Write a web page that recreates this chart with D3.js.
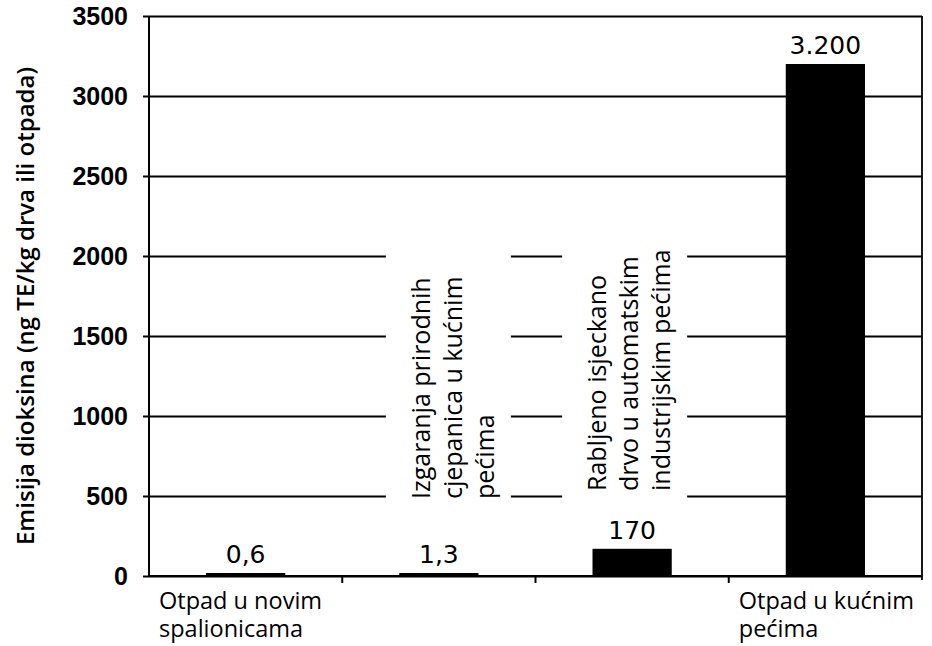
<!DOCTYPE html>
<html lang="hr">
	<head>
		<meta charset="utf-8">
		<title>Emisija dioksina</title>
		<script type="text/javascript" src="https://cdn.jsdelivr.net/npm/d3@7/dist/d3.min.js"></script>
		<style type="text/css">
			body { margin: 0; background: white; }
			.tick text { font-family: "Liberation Sans", Arial, sans-serif; font-weight: bold; font-size: 25px; fill: #000; }
			.val { font-family: "DejaVu Sans", sans-serif; font-size: 25px; }
			.cat { font-family: "Open Sans", sans-serif; font-size: 25px; }
			.catb { font-family: "Open Sans", sans-serif; font-size: 23.5px; }
			.ytitle { font-family: "Open Sans", sans-serif; font-size: 24px; font-weight: 600; }
		</style>
	</head>
	<body>
		<script type="text/javascript">
			//Data
			var categories = ["novim", "cjepanice", "rabljeno", "kucnim"];
			var values = [0.6, 1.3, 170, 3200];
			var valueLabels = ["0,6", "1,3", "170", "3.200"];
			//labels under the axis (horizontal) or inside the plot (rotated)
			var catLines = [
				["Otpad u novim", "spalionicama"],
				["Izgaranja prirodnih", "cjepanica u kućnim", "pećima"],
				["Rabljeno isjeckano", "drvo u automatskim", "industrijskim pećima"],
				["Otpad u kućnim", "pećima"]
			];
			var rotated = [false, true, true, false];
			var yTicks = [0, 500, 1000, 1500, 2000, 2500, 3000, 3500];

			var w = 932, h = 646;
			var margin = {top: 16, right: 10, bottom: 70, left: 149};

			var svg = d3.select("body").append("svg")
				.attr("width", w)
				.attr("height", h);

			var x = d3.scaleBand()
				.domain(categories)
				.range([margin.left, w - margin.right])
				.paddingInner(0.59)
				.paddingOuter(0.295);

			var y = d3.scaleLinear()
				.domain([0, 3500])
				.range([h - margin.bottom, margin.top]);

			//grid + y axis
			var yAxis = svg.append("g")
				.attr("transform", "translate(" + margin.left + ",0)")
				.call(d3.axisLeft(y).tickValues(yTicks).tickSize(6).tickPadding(15).tickFormat(d3.format("d")));
			yAxis.select(".domain").remove();
			yAxis.selectAll(".tick line")
				.attr("x1", -6)
				.attr("x2", w - margin.right - margin.left)
				.attr("stroke", "#000")
				.attr("stroke-width", 1.8);

			//left axis + right border
			svg.append("line")
				.attr("x1", margin.left).attr("x2", margin.left)
				.attr("y1", y(3500)).attr("y2", y(0))
				.attr("stroke", "#000").attr("stroke-width", 2);
			svg.append("line")
				.attr("x1", w - margin.right).attr("x2", w - margin.right)
				.attr("y1", y(3500)).attr("y2", y(0) + 4)
				.attr("stroke", "#000").attr("stroke-width", 1.8);

			//category tick marks between bands
			d3.range(1, categories.length).forEach(function(i) {
				var tx = x.range()[0] + i * x.step();
				svg.append("line")
					.attr("x1", tx).attr("x2", tx)
					.attr("y1", y(0)).attr("y2", y(0) + 7)
					.attr("stroke", "#000").attr("stroke-width", 2);
			});

			//rotated labels with white background (covers the grid)
			var lh = 32;
			categories.forEach(function(c, i) {
				if (!rotated[i]) return;
				var cx = x(c) + x.bandwidth() / 2;
				var shift = i == 1 ? 14 : -3;
				var first = cx + shift - lh * (catLines[i].length - 1) / 2;
				var last = first + lh * (catLines[i].length - 1);
				var startY = i == 1 ? 499 : 491;
				var g = svg.append("g");
				var bg = g.append("rect").attr("fill", "white");
				var t = g.append("text")
					.attr("class", "cat")
					.attr("transform", "translate(" + first + "," + startY + ") rotate(-90)");
				catLines[i].forEach(function(line, k) {
					t.append("tspan")
						.attr("x", 0)
						.attr("y", k * lh)
						.attr("dy", "0.35em")
						.text(line);
				});
				var len = d3.max(t.selectAll("tspan").nodes(), function(n) { return n.getComputedTextLength(); });
				bg.attr("x", first - 35)
					.attr("width", last - first + 35 + 26)
					.attr("y", startY - len - 22)
					.attr("height", len + 22 + 12);
			});

			//bars
			svg.selectAll("rect.bar")
				.data(values)
				.enter()
				.append("rect")
				.attr("class", "bar")
				.attr("x", function(d, i) { return x(categories[i]); })
				.attr("width", x.bandwidth())
				.attr("y", function(d) { return Math.min(y(d), y(0) - 3); })
				.attr("height", function(d) { return Math.max(y(0) - y(d), 3); })
				.attr("fill", "#000");

			//baseline
			svg.append("line")
				.attr("x1", margin.left).attr("x2", w - margin.right)
				.attr("y1", y(0)).attr("y2", y(0))
				.attr("stroke", "#000").attr("stroke-width", 1.8);

			//value labels
			svg.selectAll("text.val")
				.data(values)
				.enter()
				.append("text")
				.attr("class", "val")
				.attr("text-anchor", "middle")
				.attr("x", function(d, i) { return x(categories[i]) + x.bandwidth() / 2; })
				.attr("y", function(d) { return Math.min(y(d), y(0) - 3) - 10; })
				.text(function(d, i) { return valueLabels[i]; });

			//horizontal category labels under the axis
			categories.forEach(function(c, i) {
				if (rotated[i]) return;
				catLines[i].forEach(function(line, k) {
					svg.append("text")
						.attr("class", "catb")
						.attr("x", x.range()[0] + i * x.step() + 10)
						.attr("y", 609 + k * 28)
						.text(line);
				});
			});

			//y title
			svg.append("text")
				.attr("class", "ytitle")
				.attr("text-anchor", "middle")
				.attr("transform", "translate(34," + 306 + ") rotate(-90)")
				.text("Emisija dioksina (ng TE/kg drva ili otpada)");
		</script>
	</body>
</html>
